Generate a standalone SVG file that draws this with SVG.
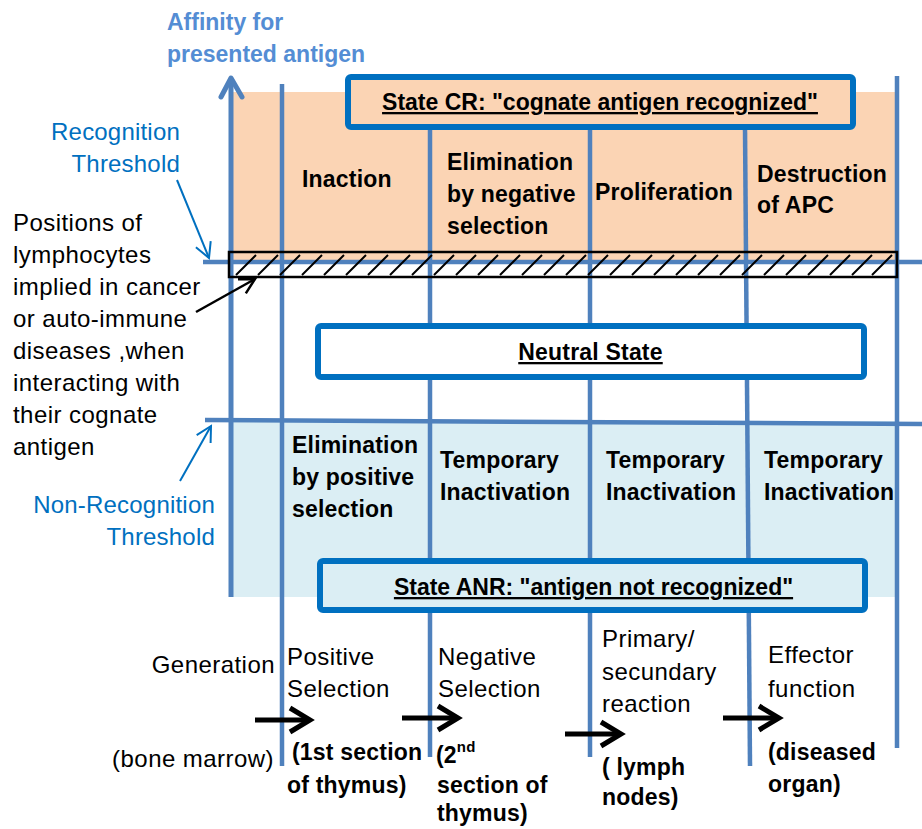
<svg xmlns="http://www.w3.org/2000/svg" width="922" height="829" viewBox="0 0 922 829">
<defs>
<style>
text{font-family:"Liberation Sans",Arial,sans-serif;}
.b{font-weight:bold;font-size:23px;fill:#000;letter-spacing:0.2px;}
.r{font-size:24px;fill:#000;letter-spacing:0.45px;}
.th{font-size:24px;fill:#0070C0;letter-spacing:0.2px;}
.ax{font-weight:bold;font-size:23px;fill:#548DD4;}
.u{text-decoration:underline;}
.vl{stroke:#4F81BD;stroke-width:4.5;fill:none;}
.box{stroke:#0070C0;stroke-width:6;}
.flow{stroke:#000;stroke-width:5;fill:none;marker-end:url(#mk-blk);}
.tarr{stroke:#0070C0;stroke-width:2;fill:none;marker-end:url(#mk-blu);}
.parr{stroke:#000;stroke-width:2.5;fill:none;marker-end:url(#mk-thin);}
</style>
<marker id="mk-blk" viewBox="0 0 26 30" refX="23" refY="15" markerWidth="26" markerHeight="30" orient="auto" markerUnits="userSpaceOnUse" overflow="visible">
<path d="M3,3 L23,15 L3,27" fill="none" stroke="#000" stroke-width="5"/>
</marker>
<marker id="mk-blu" viewBox="0 0 18 18" refX="16" refY="9" markerWidth="18" markerHeight="18" orient="auto" markerUnits="userSpaceOnUse" overflow="visible">
<path d="M1,1 L16,9 L1,17" fill="none" stroke="#0070C0" stroke-width="2"/>
</marker>
<marker id="mk-thin" viewBox="0 0 18 18" refX="16" refY="9" markerWidth="18" markerHeight="18" orient="auto" markerUnits="userSpaceOnUse" overflow="visible">
<path d="M1,1 L16,9 L1,17" fill="none" stroke="#000" stroke-width="2.5"/>
</marker>
</defs>
<rect width="922" height="829" fill="#fff"/>

<g id="regions">
<rect x="232" y="92" width="664" height="170" fill="#FBD4B4"/>
<rect x="232" y="421" width="664" height="176" fill="#DBEEF4"/>
</g>

<g id="grid">
<line class="vl" x1="282" y1="84" x2="282" y2="766"/>
<line class="vl" x1="430" y1="128" x2="430" y2="757"/>
<line class="vl" x1="590" y1="128" x2="590" y2="757"/>
<line class="vl" x1="745" y1="128" x2="750" y2="766"/>
<line class="vl" x1="897" y1="76" x2="897" y2="748"/>
<line class="vl" x1="203" y1="262" x2="922" y2="262"/>
<line class="vl" x1="205" y1="420" x2="922" y2="424"/>
</g>

<g id="axis">
<line x1="231" y1="79" x2="231" y2="597" stroke="#4F81BD" stroke-width="5"/>
<path d="M221,97 L231,78 L242,97" fill="none" stroke="#4F81BD" stroke-width="5" stroke-linejoin="round" stroke-linecap="round"/>
<text class="ax" x="167" y="30">Affinity for</text>
<text class="ax" x="167" y="62">presented antigen</text>
</g>

<g id="state-cr">
<rect class="box" x="348" y="77" width="505" height="50" rx="3" fill="#FBD4B4"/>
<text class="b u" x="600" y="110" text-anchor="middle" style="letter-spacing:0">State CR: "cognate antigen recognized"</text>
</g>

<g id="neutral-state">
<rect class="box" x="318" y="326" width="546" height="51" rx="3" fill="#fff"/>
<text class="b u" x="590.5" y="360" text-anchor="middle">Neutral State</text>
</g>

<g id="state-anr">
<rect class="box" x="320" y="561" width="545" height="49" rx="3" fill="#DBEEF4"/>
<text class="b u" x="593.5" y="595" text-anchor="middle" style="letter-spacing:0">State ANR: "antigen not recognized"</text>
</g>

<g id="cell-inaction"><text class="b" x="302" y="187">Inaction</text></g>
<g id="cell-neg-selection">
<text class="b" x="447" y="170">Elimination</text>
<text class="b" x="447" y="202">by negative</text>
<text class="b" x="447" y="234">selection</text>
</g>
<g id="cell-proliferation"><text class="b" x="595" y="200">Proliferation</text></g>
<g id="cell-destruction">
<text class="b" x="757" y="182">Destruction</text>
<text class="b" x="757" y="213">of APC</text>
</g>
<g id="cell-pos-selection">
<text class="b" x="292" y="453">Elimination</text>
<text class="b" x="292" y="485">by positive</text>
<text class="b" x="292" y="517">selection</text>
</g>
<g id="cell-temp1">
<text class="b" x="440" y="468">Temporary</text>
<text class="b" x="440" y="500">Inactivation</text>
</g>
<g id="cell-temp2">
<text class="b" x="606" y="468">Temporary</text>
<text class="b" x="606" y="500">Inactivation</text>
</g>
<g id="cell-temp3">
<text class="b" x="764" y="468">Temporary</text>
<text class="b" x="764" y="500">Inactivation</text>
</g>

<g id="hatched-band">
<rect x="229" y="252" width="668" height="25" fill="none" stroke="#000" stroke-width="2.5"/>
<path d="M236,275l20,-20M258,275l20,-20M280,275l20,-20M302,275l20,-20M324,275l20,-20M346,275l20,-20M368,275l20,-20M390,275l20,-20M412,275l20,-20M434,275l20,-20M456,275l20,-20M478,275l20,-20M500,275l20,-20M522,275l20,-20M544,275l20,-20M566,275l20,-20M588,275l20,-20M610,275l20,-20M632,275l20,-20M654,275l20,-20M676,275l20,-20M698,275l20,-20M720,275l20,-20M742,275l20,-20M764,275l20,-20M786,275l20,-20M808,275l20,-20M830,275l20,-20M852,275l20,-20M872,275l20,-20" stroke="#000" stroke-width="2" fill="none"/>
</g>

<g id="label-recognition">
<text class="th" x="180" y="140" text-anchor="end">Recognition</text>
<text class="th" x="180" y="172" text-anchor="end">Threshold</text>
</g>
<g id="label-non-recognition">
<text class="th" x="215" y="513" text-anchor="end">Non-Recognition</text>
<text class="th" x="215" y="545" text-anchor="end">Threshold</text>
</g>
<g id="label-positions">
<text class="r" x="13" y="231">Positions of</text>
<text class="r" x="13" y="263">lymphocytes</text>
<text class="r" x="13" y="295">implied in cancer</text>
<text class="r" x="13" y="327">or auto-immune</text>
<text class="r" x="13" y="359">diseases ,when</text>
<text class="r" x="13" y="391">interacting with</text>
<text class="r" x="13" y="423">their cognate</text>
<text class="r" x="13" y="455">antigen</text>
</g>

<g id="stage-generation">
<text class="r" x="275" y="673" text-anchor="end">Generation</text>
<text class="r" x="274" y="767" text-anchor="end">(bone marrow)</text>
</g>
<g id="stage-positive">
<text class="r" x="287" y="665">Positive</text>
<text class="r" x="287" y="697">Selection</text>
<text class="b" x="292" y="760">(1st section</text>
<text class="b" x="287" y="793">of thymus)</text>
</g>
<g id="stage-negative">
<text class="r" x="438" y="665">Negative</text>
<text class="r" x="438" y="697">Selection</text>
<text class="b" x="436" y="763">(2<tspan font-size="15" dy="-11">nd</tspan></text>
<text class="b" x="437" y="793">section of</text>
<text class="b" x="437" y="821">thymus)</text>
</g>
<g id="stage-reaction">
<text class="r" x="602" y="647">Primary/</text>
<text class="r" x="602" y="680">secundary</text>
<text class="r" x="602" y="712">reaction</text>
<text class="b" x="602" y="775">( lymph</text>
<text class="b" x="602" y="805">nodes)</text>
</g>
<g id="stage-effector">
<text class="r" x="768" y="663">Effector</text>
<text class="r" x="768" y="697">function</text>
<text class="b" x="768" y="760">(diseased</text>
<text class="b" x="768" y="792">organ)</text>
</g>

<g id="connectors">
<line class="tarr" x1="177" y1="180" x2="209" y2="258"/>
<line class="tarr" x1="180" y1="481" x2="211" y2="426"/>
<line class="parr" x1="196" y1="312" x2="255" y2="279"/>
<line class="flow" x1="255" y1="720" x2="310" y2="720"/>
<line class="flow" x1="402" y1="718" x2="458" y2="718"/>
<line class="flow" x1="565" y1="734" x2="621" y2="734"/>
<line class="flow" x1="723" y1="718" x2="779" y2="718"/>
</g>
</svg>
